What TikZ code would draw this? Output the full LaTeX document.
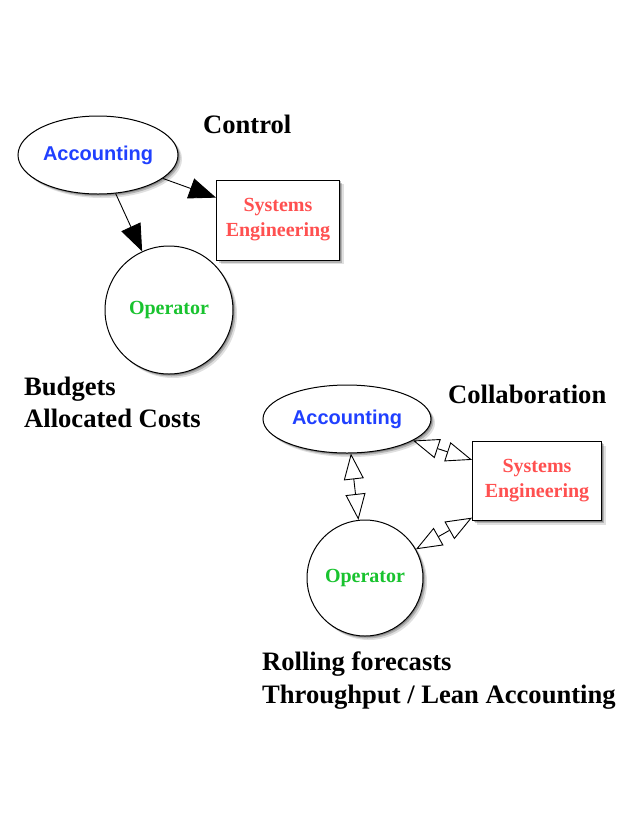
\documentclass[tikz,border=0pt]{standalone}
\usepackage{fontspec}
\setmainfont{Liberation Serif}
\newfontfamily\helv{Liberation Sans}
\usetikzlibrary{shapes.geometric,arrows.meta,shadows}
\definecolor{acblue}{RGB}{32,64,255}
\definecolor{sered}{RGB}{255,80,80}
\definecolor{opgreen}{RGB}{25,195,47}
\tikzset{
  shad/.style={drop shadow={shadow xshift=4pt,shadow yshift=-4pt,opacity=0.12,fill=black},
               drop shadow={shadow xshift=2.5pt,shadow yshift=-2.5pt,opacity=0.2,fill=black},
               drop shadow={shadow xshift=1.2pt,shadow yshift=-1.2pt,opacity=0.25,fill=black}},
  acc/.style={ellipse,draw,line width=1pt,fill=white,shad,inner sep=0pt,
    font=\helv\bfseries\fontsize{20}{22}\selectfont,text=acblue},
  sebox/.style={rectangle,draw,line width=1pt,fill=white,shad,inner sep=0pt,align=center,
    font=\bfseries\fontsize{20}{25}\selectfont,text=sered},
  opc/.style={circle,draw,line width=1pt,fill=white,shad,inner sep=0pt,
    font=\bfseries\fontsize{20}{22}\selectfont,text=opgreen},
  ttl/.style={anchor=base west,inner sep=0pt,font=\bfseries\fontsize{26.6}{32}\selectfont},
  ctrl/.style={line width=0.9pt,-{Triangle[length=27pt,width=21pt]}},
  collab/.style={line width=0.9pt,{Triangle[length=26pt,width=20pt,fill=white]}-{Triangle[length=26pt,width=20pt,fill=white]}}
}
\begin{document}
\begin{tikzpicture}[x=1pt,y=-1pt]
\useasboundingbox (0,0) rectangle (640,815);
% top diagram
\node[acc,minimum width=160pt,minimum height=78pt] (a1) at (98,155) {Accounting};
\node[sebox,minimum width=123pt,minimum height=80pt] (s1) at (278,220) {Systems\\Engineering};
\node[opc,minimum size=128pt] (o1) at (169,310) {Operator};
\draw[ctrl] (a1) -- (s1);
\draw[ctrl] (a1) -- (o1);
\node[ttl] (t1) at (203,133) {Control};
\node[ttl] (b1) at (24,395) {Budgets};
\node[ttl] (b2) at (24,427) {Allocated Costs};
% bottom diagram
\node[acc,minimum width=168pt,minimum height=68pt] (a2) at (347,419) {Accounting};
\node[sebox,minimum width=129pt,minimum height=79pt] (s2) at (537,481) {Systems\\Engineering};
\node[opc,minimum size=116pt] (o2) at (365,578) {Operator};
\draw[collab] (a2) -- (s2);
\draw[collab] (a2) -- (o2);
\draw[collab] (o2) -- (s2);
\node[ttl] (t2) at (448,403) {Collaboration};
\node[ttl] (r1) at (262,670) {Rolling forecasts};
\node[ttl] (r2) at (262,703) {Throughput / Lean Accounting};
\end{tikzpicture}
\end{document}
